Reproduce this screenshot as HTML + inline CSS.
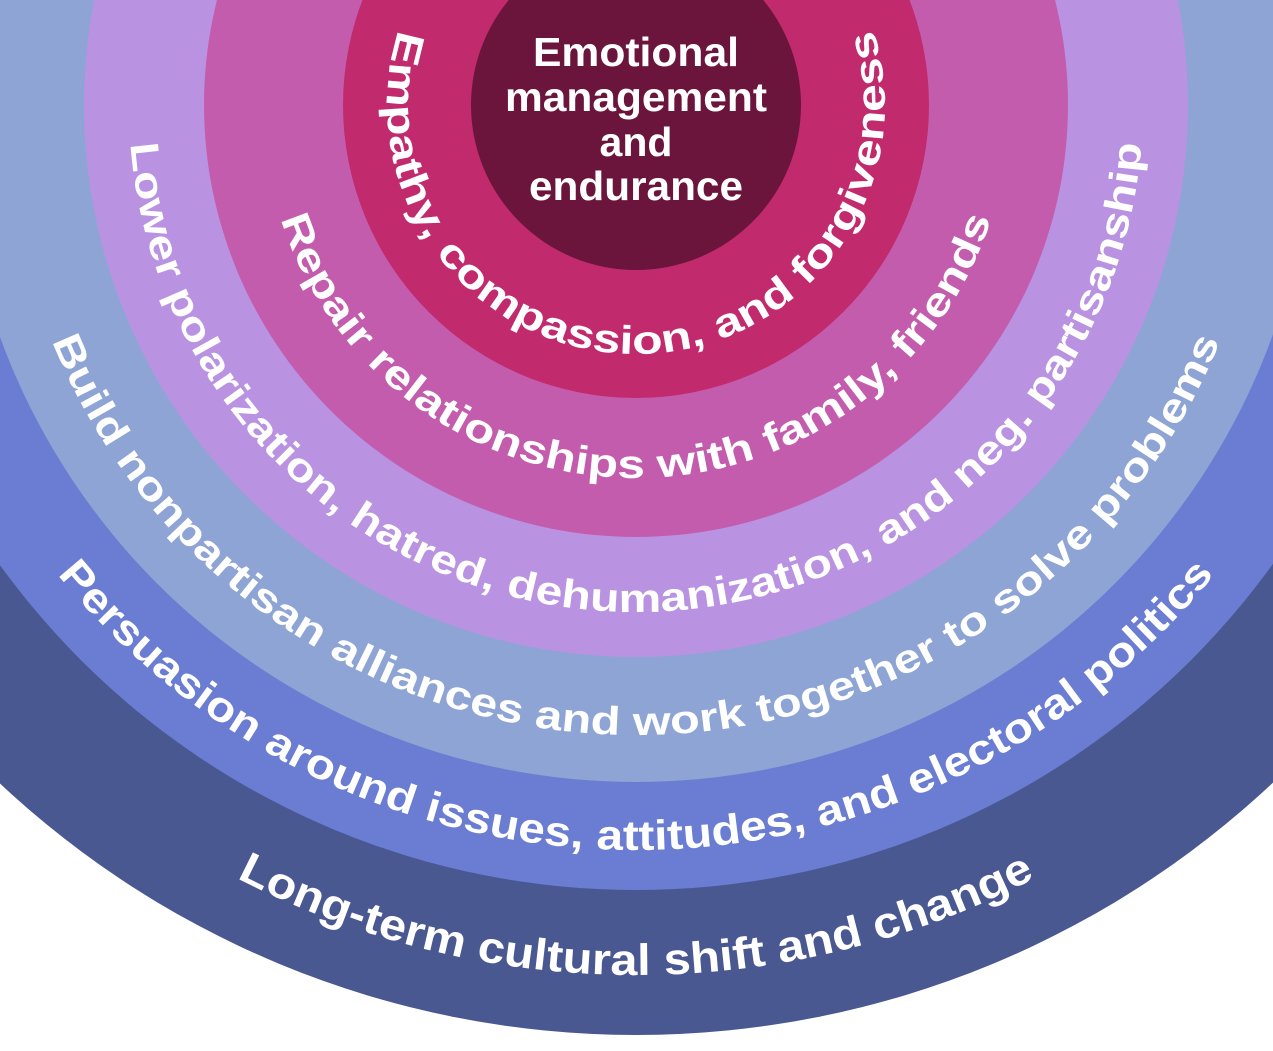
<!DOCTYPE html>
<html><head><meta charset="utf-8"><style>
html,body{margin:0;padding:0;background:#fff;width:1273px;height:1051px;overflow:hidden}
svg{display:block}
text{font-family:"Liberation Sans",sans-serif;font-weight:bold;fill:#fff}
</style></head><body>
<svg width="1273" height="1051" viewBox="0 0 1273 1051">
<defs>
<path id="p1" d="M636,-765 A870,870 0 0 0 636,975 A870,870 0 0 0 636,-765"/>
<path id="p2" d="M636,-640 A745,745 0 0 0 636,850 A745,745 0 0 0 636,-640"/>
<path id="p3" d="M636,-525 A630,630 0 0 0 636,735 A630,630 0 0 0 636,-525"/>
<path id="p4" d="M636,-402 A507,507 0 0 0 636,612 A507,507 0 0 0 636,-402"/>
<path id="p5" d="M636,-268 A373,373 0 0 0 636,478 A373,373 0 0 0 636,-268"/>
<path id="p6" d="M636,-144 A249,249 0 0 0 636,354 A249,249 0 0 0 636,-144"/>
</defs>
<circle cx="636" cy="105" r="930" fill="#4A5892"/>
<circle cx="636" cy="105" r="785" fill="#6A7DD3"/>
<circle cx="636" cy="105" r="677" fill="#8DA4D4"/>
<circle cx="636" cy="105" r="552" fill="#B993E2"/>
<circle cx="636" cy="105" r="432" fill="#C45CAE"/>
<circle cx="636" cy="105" r="293" fill="#C22A6E"/>
<circle cx="636" cy="105" r="165" fill="#6B153D"/>

<text font-size="44"><textPath href="#p1" startOffset="50%" text-anchor="middle" textLength="830" lengthAdjust="spacingAndGlyphs">Long-term cultural shift and change</textPath></text>
<text font-size="42"><textPath href="#p2" startOffset="50%" text-anchor="middle" textLength="1325" lengthAdjust="spacingAndGlyphs">Persuasion around issues, attitudes, and electoral politics</textPath></text>
<text font-size="40"><textPath href="#p3" startOffset="50%" text-anchor="middle" textLength="1495" lengthAdjust="spacingAndGlyphs">Build nonpartisan alliances and work together to solve problems</textPath></text>
<text font-size="40"><textPath href="#p4" startOffset="50%" text-anchor="middle" textLength="1515" lengthAdjust="spacingAndGlyphs">Lower polarization, hatred, dehumanization, and neg. partisanship</textPath></text>
<text font-size="40"><textPath href="#p5" startOffset="50%" text-anchor="middle" textLength="940" lengthAdjust="spacingAndGlyphs">Repair relationships with family, friends</textPath></text>
<text font-size="40"><textPath href="#p6" startOffset="50%" text-anchor="middle" textLength="935" lengthAdjust="spacingAndGlyphs">Empathy, compassion, and forgiveness</textPath></text>

<text font-size="41" text-anchor="middle" x="636" y="66" textLength="206" lengthAdjust="spacingAndGlyphs">Emotional</text>
<text font-size="41" text-anchor="middle" x="636" y="111" textLength="262" lengthAdjust="spacingAndGlyphs">management</text>
<text font-size="41" text-anchor="middle" x="636" y="156">and</text>
<text font-size="41" text-anchor="middle" x="636" y="200" textLength="214" lengthAdjust="spacingAndGlyphs">endurance</text>
</svg>
</body></html>
